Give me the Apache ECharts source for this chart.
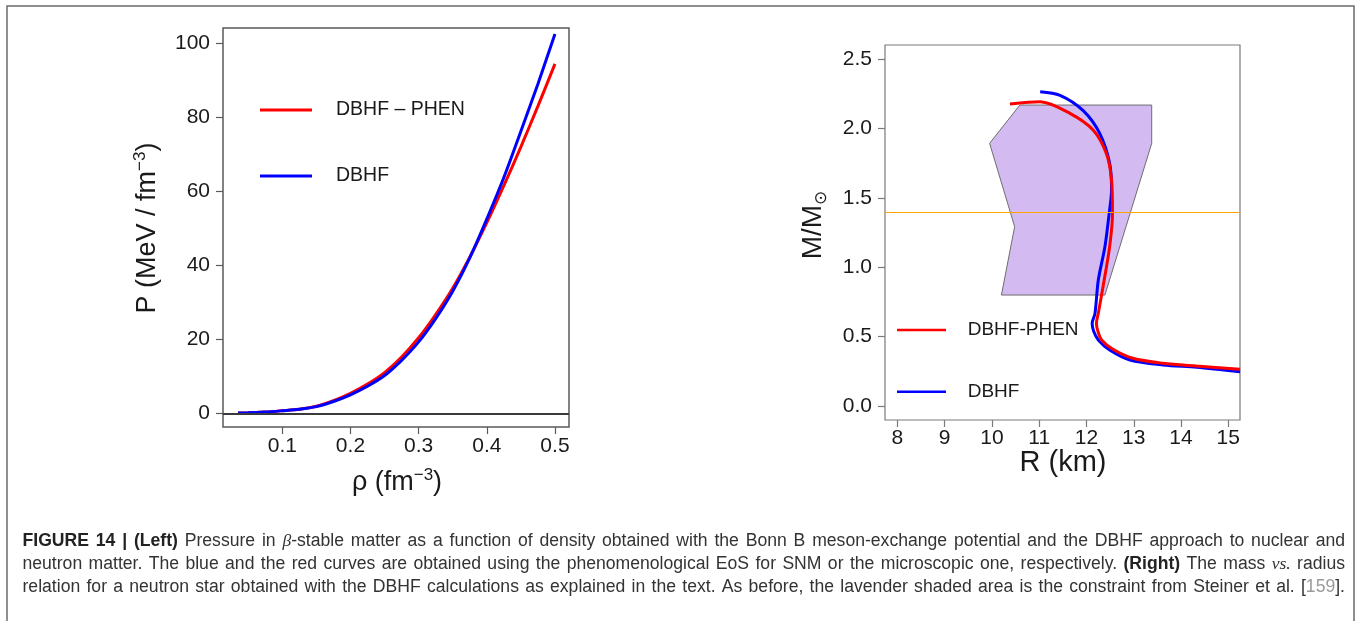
<!DOCTYPE html>
<html>
<head>
<meta charset="utf-8">
<title>DBHF equation of state and mass-radius relation</title>
<script src="https://cdn.jsdelivr.net/npm/echarts@6/dist/echarts.min.js"></script>
<style>
  html, body { margin: 0; padding: 0; background: #ffffff; }
  #fig { width: 1357px; height: 621px; }
</style>
</head>
<body>
<div id="fig"></div>
<script>
// ---- Left panel: pressure vs. density in beta-stable matter ----
const rho = [0.035, 0.05, 0.075, 0.1, 0.125, 0.15, 0.175, 0.2, 0.225, 0.25, 0.275, 0.3, 0.325, 0.35, 0.375, 0.4, 0.425, 0.45, 0.475, 0.5];
const pressureDBHF = [0.05, 0.15, 0.35, 0.7, 1.1, 1.8, 3.2, 5.0, 7.3, 10.2, 14.3, 19.3, 25.6, 33.0, 42.0, 52.5, 63.7, 76.2, 89.0, 102.5];
const pressurePhen = [0.05, 0.15, 0.35, 0.7, 1.1, 1.9, 3.4, 5.4, 7.9, 11.0, 15.2, 20.4, 26.7, 33.8, 42.2, 51.5, 61.5, 72.0, 83.0, 94.4];
const rhoTicks = [0.1, 0.2, 0.3, 0.4, 0.5];
const pressureTicks = [0, 20, 40, 60, 80, 100];

// ---- Right panel: neutron-star mass vs. radius ----
const radiusDBHF = [11.02, 11.44, 11.93, 12.28, 12.49, 12.53, 12.48, 12.39, 12.25, 12.18, 12.12, 12.15, 12.25, 12.49, 12.92, 13.62, 14.33, 15.25];
const massDBHF   = [2.266, 2.24, 2.13, 1.966, 1.75, 1.557, 1.389, 1.149, 0.908, 0.668, 0.596, 0.54, 0.476, 0.404, 0.332, 0.296, 0.279, 0.247];
const radiusPhen = [10.38, 11.02, 11.65, 12.14, 12.42, 12.53, 12.55, 12.49, 12.35, 12.25, 12.21, 12.24, 12.32, 12.56, 12.98, 13.62, 14.33, 15.25];
const massPhen   = [2.177, 2.194, 2.11, 1.99, 1.82, 1.63, 1.39, 1.149, 0.86, 0.668, 0.596, 0.54, 0.476, 0.409, 0.344, 0.308, 0.288, 0.265];
// Steiner et al. constraint region (vertices, R in km, M in solar masses)
const steinerR = [10.59, 13.38, 13.38, 12.39, 10.20, 10.48, 9.95];
const steinerM = [2.17, 2.17, 1.894, 0.80, 0.80, 1.293, 1.894];
const canonicalMass = 1.4;
const radiusTicks = [8, 9, 10, 11, 12, 13, 14, 15];
const massTicks = [0, 0.5, 1.0, 1.5, 2.0, 2.5];

// ---- Caption ----
const captionLines = [
  [['b', 'FIGURE 14 | (Left)'], ['n', ' Pressure in '], ['i', 'β'], ['n', '-stable matter as a function of density obtained with the Bonn B meson-exchange potential and the DBHF approach to nuclear and']],
  [['n', 'neutron matter. The blue and the red curves are obtained using the phenomenological EoS for SNM or the microscopic one, respectively. '], ['b', '(Right)'], ['n', ' The mass '], ['i', 'vs.'], ['n', ' radius']],
  [['n', 'relation for a neutron star obtained with the DBHF calculations as explained in the text. As before, the lavender shaded area is the constraint from Steiner et al. ['], ['g', '159'], ['n', '].']]
];

const SANS = '"Liberation Sans", Arial, Helvetica, sans-serif';
const SERIF = '"Liberation Serif", "DejaVu Serif", serif';
const pair = (xs, ys) => xs.map((x, i) => [x, ys[i]]);

// Lays out each caption line word by word so it spans the full text width.
function captionElements() {
  const ctx = document.createElement('canvas').getContext('2d');
  const styles = {
    n: { fontFamily: SANS, fontWeight: 'normal', fontStyle: 'normal', fill: '#333333' },
    b: { fontFamily: SANS, fontWeight: 'bold', fontStyle: 'normal', fill: '#222222' },
    i: { fontFamily: SERIF, fontWeight: 'normal', fontStyle: 'italic', fill: '#333333' },
    g: { fontFamily: SANS, fontWeight: 'normal', fontStyle: 'normal', fill: '#9a9a9a' }
  };
  const left = 22.5, right = 1345, lineY = [541, 564, 587];

  const lines = captionLines.map(runs => {
    const words = [];
    let cur = [];
    runs.forEach(([st, txt]) => {
      txt.split(' ').forEach((p, k) => {
        if (k > 0) { if (cur.length) words.push(cur); cur = []; }
        if (p) cur.push({ st, txt: p });
      });
    });
    if (cur.length) words.push(cur);
    return words;
  });
  const measure = (piece, size) => {
    const s = styles[piece.st];
    ctx.font = `${s.fontStyle} ${s.fontWeight} ${size}px ${s.fontFamily}`;
    return ctx.measureText(piece.txt).width;
  };
  // pick a size at which the longest line, with ordinary spaces, nearly fills the width
  const base = 16;
  ctx.font = `${base}px ${SANS}`;
  const space = ctx.measureText(' ').width;
  let widest = 0;
  lines.forEach(words => {
    let w = space * (words.length - 1);
    words.forEach(word => word.forEach(p => { w += measure(p, base); }));
    widest = Math.max(widest, w);
  });
  const size = Math.min(17.6, base * (right - left - 4) / widest);

  const out = [];
  lines.forEach((words, li) => {
    let total = 0;
    words.forEach(w => w.forEach(piece => { piece.w = measure(piece, size); total += piece.w; }));
    const gap = (right - left - total) / (words.length - 1);
    let x = left;
    words.forEach(w => {
      w.forEach(piece => {
        const s = styles[piece.st];
        out.push({
          type: 'text', x: x, y: lineY[li], silent: true,
          style: { text: piece.txt, fontSize: size, fontFamily: s.fontFamily, fontWeight: s.fontWeight,
                   fontStyle: s.fontStyle, fill: s.fill, textVerticalAlign: 'middle', textAlign: 'left' }
        });
        x += piece.w;
      });
      x += gap;
    });
  });
  return out;
}

const tickLabel = { color: '#1a1a1a', fontSize: 21, fontFamily: SANS };
const boxColor = '#5a5a5a';

const chart = echarts.init(document.getElementById('fig'), null, { renderer: 'canvas' });

const option = {
  animation: false,
  backgroundColor: '#ffffff',
  grid: [
    { left: 223, top: 28, width: 346, height: 399, show: true, borderColor: boxColor, borderWidth: 1.5, backgroundColor: 'transparent' },
    { left: 885, top: 45, width: 355, height: 375, show: true, borderColor: '#7a7a7a', borderWidth: 1.2, backgroundColor: 'transparent' }
  ],
  xAxis: [
    {
      type: 'value', gridIndex: 0, min: 0.013, max: 0.5206, position: 'bottom',
      axisLine: { show: false, onZero: false }, splitLine: { show: false },
      axisTick: { show: true, length: 7, lineStyle: { color: boxColor, width: 1.2 }, customValues: rhoTicks },
      axisLabel: { ...tickLabel, margin: 9, customValues: rhoTicks, formatter: v => v.toFixed(1) }
    },
    {
      type: 'value', gridIndex: 1, min: 7.737, max: 15.248, position: 'bottom',
      axisLine: { show: false, onZero: false }, splitLine: { show: false },
      axisTick: { show: true, length: 7, lineStyle: { color: '#7a7a7a', width: 1.2 }, customValues: radiusTicks },
      axisLabel: { ...tickLabel, margin: 8, customValues: radiusTicks, formatter: v => String(v) }
    }
  ],
  yAxis: [
    {
      type: 'value', gridIndex: 0, min: -3.7, max: 104.1, position: 'left',
      axisLine: { show: false, onZero: false }, splitLine: { show: false },
      axisTick: { show: true, length: 7, lineStyle: { color: boxColor, width: 1.2 }, customValues: pressureTicks },
      axisLabel: { ...tickLabel, margin: 13, customValues: pressureTicks, formatter: v => String(v) }
    },
    {
      type: 'value', gridIndex: 1, min: -0.101, max: 2.603, position: 'left',
      axisLine: { show: false, onZero: false }, splitLine: { show: false },
      axisTick: { show: true, length: 7, lineStyle: { color: '#7a7a7a', width: 1.2 }, customValues: massTicks },
      axisLabel: { ...tickLabel, margin: 13, customValues: massTicks, formatter: v => v.toFixed(1) }
    }
  ],
  legend: [
    {
      data: ['DBHF – PHEN', 'DBHF'], orient: 'vertical', left: 260, top: 100, padding: 0,
      icon: 'rect', itemWidth: 52, itemHeight: 3, itemGap: 46, selectedMode: false,
      textStyle: { fontSize: 19.5, color: '#1a1a1a', fontFamily: SANS, lineHeight: 20, padding: [0, 0, 0, 19] }
    },
    {
      data: ['DBHF-PHEN', 'DBHF'], orient: 'vertical', left: 897, top: 320, padding: 0,
      icon: 'rect', itemWidth: 49, itemHeight: 2.5, itemGap: 41.7, selectedMode: false,
      textStyle: { fontSize: 19, color: '#1a1a1a', fontFamily: SANS, lineHeight: 20, padding: [0, 0, 0, 16.7] }
    }
  ],
  series: [
    // zero-pressure reference line
    {
      type: 'line', xAxisIndex: 0, yAxisIndex: 0, data: [], z: 1, silent: true,
      markLine: {
        silent: true, symbol: 'none', label: { show: false },
        lineStyle: { color: '#3a3a3a', width: 2, type: 'solid' },
        data: [{ yAxis: 0 }]
      }
    },
    {
      name: 'DBHF – PHEN', type: 'line', xAxisIndex: 0, yAxisIndex: 0, z: 3,
      data: pair(rho, pressurePhen), smooth: 0.3, showSymbol: false, symbol: 'none',
      itemStyle: { color: '#ff0000' }, lineStyle: { color: '#ff0000', width: 3 }
    },
    {
      name: 'DBHF', type: 'line', xAxisIndex: 0, yAxisIndex: 0, z: 4,
      data: pair(rho, pressureDBHF), smooth: 0.3, showSymbol: false, symbol: 'none',
      itemStyle: { color: '#0000ff' }, lineStyle: { color: '#0000ff', width: 3 }
    },
    // Steiner et al. constraint polygon
    {
      type: 'custom', xAxisIndex: 1, yAxisIndex: 1, z: 1, silent: true,
      data: [[steinerR[0], steinerM[0]]],
      renderItem: (params, api) => ({
        type: 'polygon',
        shape: { points: steinerR.map((r, i) => api.coord([r, steinerM[i]])) },
        style: { fill: '#d3baf1', stroke: '#6e6e6e', lineWidth: 1 }
      })
    },
    // canonical 1.4 solar-mass line
    {
      type: 'line', xAxisIndex: 1, yAxisIndex: 1, data: [], z: 2, silent: true,
      markLine: {
        silent: true, symbol: 'none', label: { show: false },
        lineStyle: { color: '#ffa500', width: 1.2, type: 'solid' },
        data: [{ yAxis: canonicalMass }]
      }
    },
    {
      name: 'DBHF', type: 'line', xAxisIndex: 1, yAxisIndex: 1, z: 3,
      data: pair(radiusDBHF, massDBHF), smooth: 0.3, showSymbol: false, symbol: 'none',
      itemStyle: { color: '#0000ff' }, lineStyle: { color: '#0000ff', width: 3 }
    },
    {
      name: 'DBHF-PHEN', type: 'line', xAxisIndex: 1, yAxisIndex: 1, z: 4,
      data: pair(radiusPhen, massPhen), smooth: 0.3, showSymbol: false, symbol: 'none',
      itemStyle: { color: '#ff0000' }, lineStyle: { color: '#ff0000', width: 3 }
    }
  ],
  graphic: [
    // figure frame
    { type: 'rect', silent: true, shape: { x: 7, y: 6, width: 1347, height: 640 },
      style: { fill: 'none', stroke: '#6b6b6b', lineWidth: 1.5 } },
    // left panel axis titles
    { type: 'text', x: 148, y: 228, rotation: Math.PI / 2, silent: true,
      style: { text: 'P (MeV / fm{sup|−3})', fontSize: 27, fontFamily: SANS, fill: '#1a1a1a',
               textAlign: 'center', textVerticalAlign: 'middle', lineHeight: 33,
               rich: { sup: { fontSize: 17, fontFamily: SANS, fill: '#1a1a1a', verticalAlign: 'top', lineHeight: 17 } } } },
    { type: 'text', x: 397, y: 483, silent: true,
      style: { text: 'ρ (fm{sup|−3})', fontSize: 27, fontFamily: SANS, fill: '#1a1a1a',
               textAlign: 'center', textVerticalAlign: 'middle', lineHeight: 33,
               rich: { sup: { fontSize: 17, fontFamily: SANS, fill: '#1a1a1a', verticalAlign: 'top', lineHeight: 17 } } } },
    // right panel axis titles
    { type: 'text', x: 813, y: 225, rotation: Math.PI / 2, silent: true,
      style: { text: 'M/M{sub|⊙}', fontSize: 28, fontFamily: SANS, fill: '#1a1a1a',
               textAlign: 'center', textVerticalAlign: 'middle', lineHeight: 34,
               rich: { sub: { fontSize: 17, fontFamily: '"DejaVu Sans", sans-serif', fill: '#1a1a1a', verticalAlign: 'bottom', lineHeight: 17 } } } },
    { type: 'text', x: 1063, y: 463, silent: true,
      style: { text: 'R (km)', fontSize: 29, fontFamily: SANS, fill: '#1a1a1a',
               textAlign: 'center', textVerticalAlign: 'middle' } },
    ...captionElements()
  ]
};

chart.setOption(option);
</script>
</body>
</html>
